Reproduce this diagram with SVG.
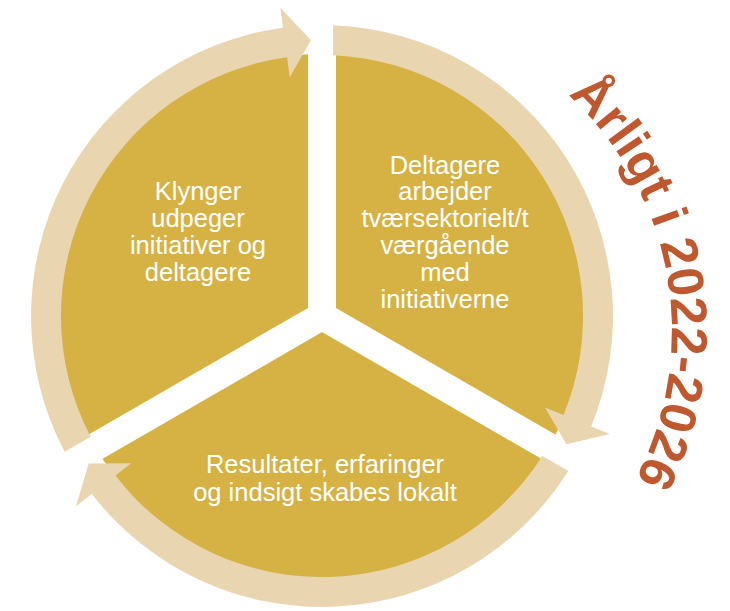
<svg xmlns="http://www.w3.org/2000/svg" width="730" height="611" viewBox="0 0 730 611">
  <defs>
    <style>
      .slice { fill: #D6B244; }
      .gap { stroke: #FFFFFF; stroke-width: 28; stroke-linecap: butt; }
      .ring { fill: #E9D5B0; }
      .lbl { font-family: "Liberation Sans", Arial, sans-serif; font-size: 25.5px; fill: #FFFFFF; text-anchor: middle; }
      .arch { font-family: "Liberation Sans", Arial, sans-serif; font-size: 51px; font-weight: bold; fill: #C0582F; }
    </style>
    <path id="arrowShape" d="M 11,-290.79 A 291 291 0 0 1 269.2,110.4 L 287.7,118.0 L 244.4,128.3 L 223.0,91.5 L 241.5,99.1 A 261 261 0 0 0 11,-260.77 Z"/>
    <path id="archPath" d="M 352,11 A 320 320 0 0 1 407.6,646.1"/>
  </defs>
  <rect width="730" height="611" fill="#FFFFFF"/>

  <g id="pie">
    <circle cx="322" cy="316" r="262" class="slice"/>
    <line x1="322" y1="316" x2="322" y2="10" class="gap"/>
    <line x1="322" y1="316" x2="590" y2="470.7" class="gap"/>
    <line x1="322" y1="316" x2="54" y2="470.7" class="gap"/>
  </g>

  <g id="connectors">
    <use href="#arrowShape" class="ring" transform="translate(322,316)"/>
    <use href="#arrowShape" class="ring" transform="translate(322,316) rotate(120)"/>
    <use href="#arrowShape" class="ring" transform="translate(322,316) rotate(240)"/>
  </g>

  <g id="node-klynger">
    <text class="lbl" x="198" y="200">Klynger</text>
    <text class="lbl" x="198" y="227">udpeger</text>
    <text class="lbl" x="198" y="254">initiativer og</text>
    <text class="lbl" x="198" y="281">deltagere</text>
  </g>

  <g id="node-deltagere">
    <text class="lbl" x="445" y="173.5">Deltagere</text>
    <text class="lbl" x="445" y="200.4">arbejder</text>
    <text class="lbl" x="445" y="227.3">tværsektorielt/t</text>
    <text class="lbl" x="445" y="254.2">værgående</text>
    <text class="lbl" x="445" y="281.1">med</text>
    <text class="lbl" x="445" y="308">initiativerne</text>
  </g>

  <g id="node-resultater">
    <text class="lbl" x="325" y="473">Resultater, erfaringer</text>
    <text class="lbl" x="325" y="501">og indsigt skabes lokalt</text>
  </g>

  <g id="arch-label">
    <text class="arch"><textPath href="#archPath" startOffset="446.8" text-anchor="middle">Årligt i 2022-2026</textPath></text>
  </g>
</svg>
